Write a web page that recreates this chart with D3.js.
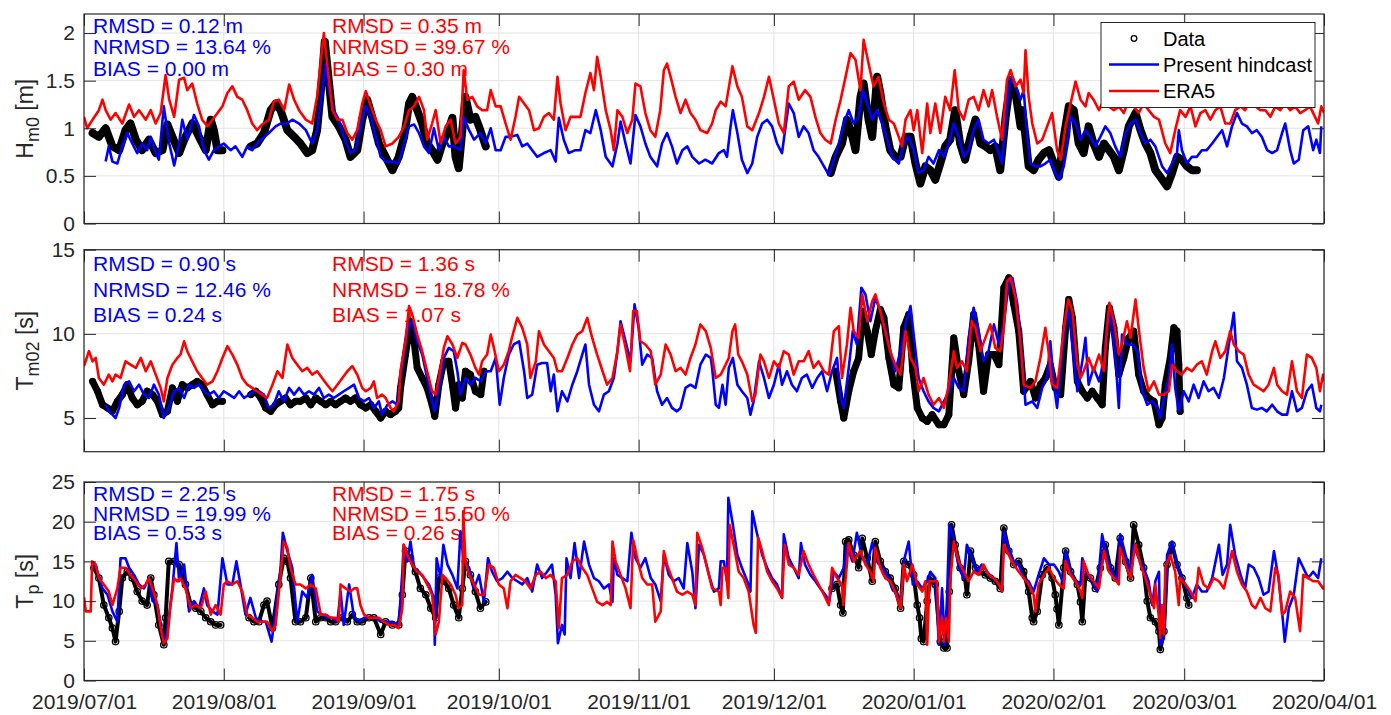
<!DOCTYPE html>
<html>
<head>
<meta charset="utf-8">
<script src="https://cdn.jsdelivr.net/npm/d3@7"></script>
<style>
  body { margin: 0; background: #fff; }
  text { font-family: "Liberation Sans", Arial, sans-serif; }
</style>
</head>
<body>
<svg id="chart" width="1391" height="715"></svg>
<script>
// time values are days since 2019/07/01, null = gap in the record
const monthTicks = ["2019/07/01","2019/08/01","2019/09/01","2019/10/01","2019/11/01","2019/12/01","2020/01/01","2020/02/01","2020/03/01","2020/04/01"];
const hm0Ticks = [0, 0.5, 1, 1.5, 2];
const tm02Ticks = [5, 10, 15];
const tpTicks = [0, 5, 10, 15, 20, 25];

const seriesNames = ["Data", "Present hindcast", "ERA5"];

const hindStats = [
  ["RMSD = 0.12 m", "NRMSD = 13.64 %", "BIAS = 0.00 m"],
  ["RMSD = 0.90 s", "NRMSD = 12.46 %", "BIAS = 0.24 s"],
  ["RMSD = 2.25 s", "NRMSD = 19.99 %", "BIAS = 0.53 s"]
];
const eraStats = [
  ["RMSD = 0.35 m", "NRMSD = 39.67 %", "BIAS = 0.30 m"],
  ["RMSD = 1.36 s", "NRMSD = 18.78 %", "BIAS = 1.07 s"],
  ["RMSD = 1.75 s", "NRMSD = 15.50 %", "BIAS = 0.26 s"]
];

const hm0Obs = [
  [1.9,0.95],[3.3,0.91],[4.8,1.00],[6.3,0.81],[7.8,0.77],[9.2,0.98],[10.3,1.05],[11.5,0.88],[12.9,0.77],[14.4,0.88],[15.9,0.74],[17.4,0.77],[18.5,1.04],[19.6,0.91],[21.1,0.74],[22.5,0.91],[24.0,1.05],[25.5,0.91],[27.0,0.77],[28.1,1.09],[28.8,0.98],[29.6,0.77],[30.7,0.77],
  null,
  [37.0,0.81],[38.4,0.84],[39.9,0.95],[41.4,1.19],[42.5,1.26],[43.6,1.19],[45.1,0.98],[46.6,0.91],[48.0,0.84],[49.5,0.74],[50.6,0.77],[51.7,0.98],[52.8,1.54],[53.4,1.91],[54.2,1.54],[55.1,1.12],[56.5,1.02],[58.0,0.88],[59.1,0.70],[60.6,0.77],[61.7,1.09],[62.8,1.30],[63.9,1.12],[65.4,0.84],[66.9,0.70],[68.4,0.56],[69.8,0.70],
  [71.0,0.91],[72.1,1.26],[72.8,1.33],[73.9,1.19],[75.0,1.05],[76.1,0.84],[77.2,0.77],[78.4,0.67],[79.5,0.84],[80.6,0.95],[81.7,1.11],[82.4,0.70],[83.1,0.58],[83.9,0.98],[84.6,1.33],[85.7,1.09],[86.8,1.12],[87.9,0.98],[89.1,0.81],
  null,
  [165.6,0.53],[166.7,0.70],[168.1,0.84],[169.2,1.09],[170.4,0.91],[171.1,0.77],[172.2,1.33],[172.9,1.47],[174.0,1.09],[174.8,0.91],[175.9,1.54],[176.6,1.37],[177.7,1.02],[178.8,0.77],[179.9,0.70],[181.1,0.70],[182.2,0.91],[183.3,0.91],[184.4,0.63],[185.5,0.42],[186.6,0.60],[187.7,0.56],[188.8,0.46],[189.9,0.63],[191.0,0.81],[192.1,0.88],[193.2,1.19],[194.3,0.84],[195.4,0.67],[196.6,0.91],[197.7,1.09],[198.8,0.84],[199.9,0.81],[201.0,0.77],[202.1,0.81],[203.2,0.56],[204.4,1.12],[205.5,1.51],[206.6,1.37],[207.7,1.02],
  [208.1,1.19],[208.8,0.91],[209.5,0.60],[210.6,0.56],[211.7,0.67],[212.9,0.74],[214.0,0.77],[215.1,0.63],[216.2,0.49],[217.3,0.91],[218.4,1.23],[219.5,1.19],[220.6,0.84],[221.7,0.74],[222.8,1.02],[223.9,0.84],[225.1,0.70],[226.2,0.84],[227.3,0.77],[228.4,0.70],[229.5,0.56],[230.6,0.77],[231.7,1.02],[233.2,1.16],[234.3,0.98],[235.4,0.84],[236.5,0.74],[237.6,0.56],[238.7,0.49],[240.2,0.39],[241.3,0.53],[242.4,0.70],[243.5,0.67],[244.6,0.60],[245.7,0.56],[246.8,0.56]
];
const hm0Hind = [
  [4.8,0.65],[5.5,0.81],[6.3,0.65],[7.4,0.63],[8.5,0.81],[9.6,0.95],[10.7,0.84],[11.8,0.74],[12.9,0.84],[14.0,0.77],[14.8,0.91],[15.9,0.74],[16.6,0.67],[17.7,1.23],[18.9,0.84],[20.0,0.61],[21.1,0.84],[21.8,1.09],[22.9,0.88],[24.4,1.14],[25.5,1.02],[26.6,0.77],[27.7,0.67],[28.8,0.77],[29.9,0.81],[31.0,0.84],[32.5,0.77],[33.6,0.81],[35.1,0.70],[36.2,0.81],[37.3,0.77],[38.4,0.84],[39.5,0.89],[41.0,0.95],[42.5,1.02],[43.6,1.05],[44.7,1.04],[46.2,1.09],[47.7,1.05],[49.2,0.98],[50.6,0.84],[51.7,0.98],[52.8,1.37],[53.6,1.68],[54.3,1.40],[55.4,1.19],[56.5,1.09],[57.6,0.91],[59.1,0.74],[60.2,0.77],[61.7,1.09],[62.5,1.23],[63.6,1.12],[64.7,0.91],[65.8,0.70],[66.9,0.65],[68.4,0.65],[69.8,0.63],
  [71.0,0.84],[72.1,1.02],[73.2,1.04],[74.3,0.95],[75.4,0.81],[76.5,0.74],[77.6,1.00],[78.7,0.77],[79.8,0.91],[80.9,0.81],[82.0,0.81],[83.5,0.77],[84.2,1.12],[85.4,0.98],[86.5,0.88],[87.9,0.95],[89.1,0.84],[90.2,1.00],[91.3,0.77],[92.4,0.77],[93.5,0.91],[94.6,0.91],[96.1,0.93],[97.2,0.81],[98.3,0.84],[99.4,0.77],[100.5,0.70],[102.0,0.74],[103.5,0.77],[104.6,0.65],[105.3,1.11],[106.4,0.88],[107.5,0.74],[109.0,0.77],[110.1,0.77],[111.2,0.98],[112.3,0.95],[113.5,1.19],[114.6,0.98],[115.7,0.70],[117.2,0.60],[118.3,0.84],[119.0,1.07],[120.1,0.84],[121.2,0.63],[122.3,1.14],[123.4,1.02],[124.5,0.84],[125.6,0.70],[127.1,0.60],[128.2,0.84],[129.3,0.95],[130.4,0.81],[131.5,0.63],[132.7,0.77],[133.8,0.81],[134.9,0.70],[136.4,0.63],[137.8,0.67],[139.3,0.63],
  [140.8,0.74],[141.9,0.77],[142.6,0.70],[143.4,1.02],[143.9,1.19],[144.9,0.95],[145.9,0.67],[147.1,0.53],[148.2,0.63],[149.3,0.91],[150.4,1.05],[151.5,1.09],[152.6,1.02],[153.7,0.84],[154.8,0.74],[155.6,1.02],[156.3,1.26],[157.4,1.16],[158.5,0.91],[159.6,1.02],[160.7,0.95],[161.8,0.77],[162.9,0.70],[164.1,0.60],[165.2,0.51],[166.3,0.67],[167.4,0.84],[168.5,1.05],[169.6,1.19],[170.7,1.05],[171.8,1.12],[172.7,1.40],[173.7,1.26],[174.8,1.09],[175.9,1.19],[177.0,1.05],[178.1,0.88],[179.2,0.70],[180.7,0.63],[181.8,0.84],[182.9,0.91],[184.0,0.77],[185.1,0.53],[186.2,0.56],[187.3,0.70],[188.4,0.63],[189.6,0.77],[190.7,0.70],[191.8,0.84],[192.9,1.05],[194.0,0.91],[195.1,0.70],[196.2,0.77],[197.3,0.98],[198.4,1.09],[199.5,0.88],[200.6,0.84],[201.8,0.88],[202.9,0.74],[203.6,0.63],[204.4,1.09],[205.5,1.53],[206.6,1.44],[207.7,1.30],
  [208.4,1.40],[209.2,0.91],[209.9,0.63],[211.0,0.60],[212.1,0.60],[213.2,0.63],[214.3,0.67],[215.4,0.53],[216.2,0.46],[217.3,0.60],[218.4,0.91],[218.8,1.12],[219.9,1.05],[221.0,0.88],[222.1,0.98],[223.2,0.91],[224.3,0.81],[225.4,0.91],[226.5,1.02],[227.6,0.95],[228.7,0.81],[229.8,0.70],[231.0,0.95],[232.1,1.05],[233.2,1.09],[234.3,0.95],[235.4,0.84],[236.5,0.88],[237.6,0.81],[239.1,0.60],[240.2,0.53],[241.3,0.63],[242.4,0.74],[242.8,0.98],[243.5,0.77],[244.6,0.63],[245.7,0.70],[246.8,0.70],[247.9,0.77],[249.0,0.77],[250.2,0.84],[251.3,0.91],[252.4,0.98],[253.5,0.81],[254.6,1.02],[255.7,1.16],[256.8,1.05],[257.9,1.02],[259.0,0.95],[260.1,0.98],[261.2,0.91],[262.4,0.77],[263.5,0.74],[264.6,0.77],[265.7,0.95],[266.4,1.05],[267.5,0.77],[268.3,0.63],[269.4,0.67],[270.4,0.98],[271.5,1.02],[272.6,0.77],[273.3,0.88],[274.1,0.74],[274.4,1.02]
];
const hm0Era = [
  [0,1.12],[0.7,1.00],[1.9,1.09],[3.3,1.19],[4.1,1.30],[4.8,1.19],[5.9,1.09],[7.0,1.16],[8.5,1.05],[10.0,1.25],[11.1,1.12],[12.2,1.19],[13.7,1.09],[14.8,1.19],[15.9,1.05],[17.0,1.16],[18.1,1.56],[18.9,1.30],[20.0,1.12],[21.1,1.51],[22.2,1.53],[22.9,1.40],[24.0,1.47],[25.1,1.26],[26.2,1.09],[27.4,1.02],[28.5,1.09],[29.6,1.16],[30.7,1.23],[31.8,1.37],[32.9,1.44],[34.0,1.33],[35.1,1.30],[36.2,1.19],[37.3,1.05],[38.4,0.98],[39.5,1.04],[41.0,1.09],[42.1,1.28],[43.2,1.30],[44.4,1.19],[45.5,1.46],[46.6,1.30],[47.7,1.19],[49.2,1.09],[50.6,1.05],[51.7,1.33],[52.7,1.79],[53.2,2.00],[54.0,1.65],[55.1,1.19],[56.2,1.09],[57.3,1.09],[58.4,0.95],[59.5,0.88],[60.6,0.98],[61.7,1.26],[62.5,1.39],[63.6,1.23],[64.7,1.09],[65.8,0.98],[66.9,0.81],[68.4,0.84],[69.8,0.91],
  [71.0,1.02],[72.1,1.19],[73.2,1.23],[74.3,1.33],[75.4,1.19],[76.1,0.88],[77.2,1.05],[78.0,1.19],[79.1,0.84],[80.2,1.02],[81.3,1.09],[82.4,0.84],[83.5,0.91],[84.2,1.61],[85.0,1.30],[86.1,1.33],[87.2,1.23],[88.3,1.19],[89.4,1.19],[90.2,1.40],[91.3,1.23],[92.4,1.23],[93.5,1.05],[94.6,0.88],[95.7,1.12],[96.5,1.33],[97.6,1.26],[98.7,1.19],[99.8,0.98],[100.9,1.00],[102.0,1.12],[103.1,1.16],[104.2,1.09],[105.0,1.54],[105.7,1.26],[106.8,0.98],[107.9,1.12],[109.0,1.12],[110.1,1.12],[111.2,1.37],[112.3,1.58],[113.1,1.40],[113.8,1.75],[114.6,1.54],[115.7,1.19],[116.8,0.98],[117.5,0.77],[118.3,1.19],[119.4,1.12],[120.5,0.95],[121.6,1.09],[122.3,1.47],[123.4,1.44],[124.5,1.16],[125.6,0.98],[126.7,0.91],[127.8,1.19],[128.6,1.61],[129.3,1.68],[130.1,1.54],[131.2,1.33],[132.3,1.16],[133.4,1.30],[134.5,1.16],[135.6,1.09],[136.7,0.98],[138.2,0.95],[139.3,1.05],
  [140.1,1.19],[141.2,1.28],[142.3,1.23],[143.8,1.65],[144.9,1.44],[145.9,1.33],[147.1,1.02],[148.2,0.98],[149.7,1.16],[150.8,1.33],[151.9,1.54],[153.0,1.30],[154.1,1.05],[155.2,0.95],[156.3,1.44],[157.4,1.49],[158.5,1.30],[159.9,1.40],[161.1,1.33],[162.2,1.12],[163.3,0.95],[164.4,0.88],[165.6,0.84],[166.7,1.09],[167.8,1.30],[168.9,1.54],[170.0,1.79],[171.1,1.72],[172.2,1.40],[172.9,1.93],[174.0,1.68],[175.1,1.44],[176.2,1.54],[177.4,1.26],[178.5,1.09],[179.6,1.05],[180.7,0.91],[181.4,0.81],[182.2,1.09],[183.3,1.19],[184.0,0.98],[184.8,1.19],[185.9,0.74],[187.0,1.26],[187.7,0.95],[188.8,1.26],[189.9,0.95],[191.0,1.33],[192.1,1.19],[193.1,1.61],[194.0,1.19],[195.1,1.09],[196.2,1.30],[197.3,1.33],[198.4,1.19],[199.5,1.40],[200.6,1.23],[201.4,1.40],[202.5,1.12],[203.6,0.88],[204.7,1.51],[205.5,1.61],[206.6,1.44],[207.7,1.51],[208.4,1.37],
  [208.8,1.82],[209.5,1.33],[210.3,1.05],[211.4,0.84],[212.5,0.88],[213.6,1.02],[214.7,1.16],[215.8,0.77],[216.6,0.67],[217.7,1.02],[218.8,1.26],[219.9,1.49],[221.0,1.30],[222.1,1.23],[222.8,1.37],[223.9,1.30],[225.1,1.19],[226.2,1.30],[227.3,1.23],[228.4,1.19],[229.5,1.23],[230.6,1.16],[231.7,1.30],[232.8,1.23],[233.9,1.16],[235.0,1.26],[236.1,1.19],[237.3,1.12],[238.4,1.09],[239.8,0.84],[240.9,0.74],[242.0,0.98],[243.1,1.19],[244.3,1.12],[245.4,1.23],[246.5,1.02],[247.6,1.16],[248.7,1.19],[249.8,1.09],[250.9,1.19],[252.0,1.23],[253.1,1.05],[254.2,1.05],[255.3,1.19],[256.5,1.23],[257.5,1.19],[258.7,1.30],[259.8,1.23],[260.9,1.19],[262.0,1.19],[263.1,1.12],[264.2,1.23],[265.3,1.19],[266.4,1.26],[267.5,1.19],[268.6,1.23],[269.7,1.16],[270.8,1.19],[271.9,1.23],[273.0,1.12],[273.7,1.05],[274.4,1.23],[275.0,1.16]
];

const tm02Obs = [
  [1.9,7.18],[3.0,6.59],[4.1,5.79],[5.2,5.60],[6.3,5.40],[7.4,5.99],[8.5,6.39],[9.6,6.98],[10.7,6.19],[11.8,5.79],[12.9,5.99],[14.0,6.59],[15.2,6.39],[16.3,5.99],[17.4,5.20],[18.5,5.40],[19.6,6.79],[20.7,5.99],[21.8,6.98],[22.9,6.79],[24.0,6.98],[25.1,7.18],[26.2,6.98],[27.3,6.39],[28.5,5.79],[29.6,5.99],[30.7,5.99],
  null,
  [37.0,6.39],[38.1,6.59],[39.2,6.19],[40.3,5.60],[41.4,5.40],[42.5,5.79],[43.6,5.99],[44.7,6.19],[45.8,5.79],[46.9,5.99],[48.0,5.99],[49.2,6.19],[50.3,5.79],[51.4,6.19],[52.5,5.99],[53.6,5.79],[54.7,5.99],[55.8,5.79],[56.9,5.99],[58.0,6.19],[59.1,5.99],[60.2,6.19],[61.3,5.79],[62.5,5.60],[63.6,5.79],[64.7,5.40],[65.8,5.00],[66.9,5.40],[68.0,5.20],[69.1,5.40],[69.8,5.60],
  [70.2,6.79],[71.3,8.77],[72.4,10.75],[73.2,9.56],[73.9,7.98],[75.0,7.38],[76.1,6.79],[77.2,5.79],[77.8,5.10],[78.7,6.98],[79.8,8.37],[80.9,8.37],[81.7,6.98],[82.4,5.60],[83.1,6.98],[83.9,6.19],[84.6,7.78],[85.7,7.58],[86.8,6.59],[88.0,6.39],[88.7,7.78],
  null,
  [166.7,7.78],[167.8,5.99],[168.5,5.00],[169.6,6.59],[170.7,7.78],[171.8,8.57],[172.7,11.35],[173.7,10.16],[174.6,8.77],[175.5,10.16],[176.6,11.45],[177.4,10.95],[178.5,8.57],[179.6,6.98],[180.7,6.79],[181.8,10.36],[182.9,11.15],[183.8,7.78],[184.8,5.60],[185.9,5.00],[187.0,4.80],[188.1,5.20],[189.6,4.60],[190.7,4.60],[191.8,5.20],[192.9,9.76],[194.0,7.78],[195.1,6.39],[196.2,8.37],[197.3,11.15],[198.4,9.37],[199.5,6.59],[200.6,8.77],[201.8,8.77],[202.9,8.17],[204.0,12.74],[205.1,13.33],[206.2,11.75],[207.3,10.16],[208.4,6.59],
  [209.9,7.18],[211.0,6.19],[212.1,6.98],[213.2,7.38],[214.3,8.17],[215.4,6.79],[216.6,6.39],[217.7,10.36],[218.4,12.04],[219.2,10.95],[220.3,7.18],[221.4,6.59],[222.5,6.19],[223.6,6.59],[224.7,6.19],[225.8,5.79],[226.5,9.17],[227.4,11.55],[228.4,10.36],[229.5,7.58],[230.6,8.57],[231.7,9.76],[232.8,10.16],[233.9,7.58],[235.0,6.59],[236.1,6.19],[237.3,5.99],[238.4,4.60],[239.1,5.00],[239.8,6.98],[240.9,8.57],[241.7,10.36],[242.4,10.16],[242.8,8.17],[243.1,5.40]
];
const tm02Hind = [
  [4.8,5.79],[5.5,5.40],[6.3,5.20],[7.0,5.00],[7.8,5.60],[8.9,6.98],[10.0,7.18],[11.1,6.59],[12.2,6.98],[13.3,6.39],[14.4,6.19],[15.5,6.98],[16.6,6.39],[17.7,5.00],[18.8,5.60],[20.0,6.59],[21.1,6.79],[22.2,6.19],[23.3,6.98],[24.4,6.79],[25.5,6.98],[26.6,6.59],[27.7,6.39],[28.8,6.59],[29.9,6.19],[31.0,6.59],[32.2,6.39],[33.3,6.19],[34.4,6.59],[35.5,6.19],[36.6,6.39],[37.7,6.59],[38.8,6.59],[39.9,6.39],[41.0,5.60],[42.1,5.79],[43.2,6.59],[44.3,5.99],[45.5,6.79],[46.6,6.39],[47.7,6.79],[48.8,6.39],[49.9,6.59],[51.0,6.39],[52.1,6.79],[53.2,6.19],[54.3,6.39],[55.4,6.19],[56.5,6.39],[57.6,6.59],[58.8,6.79],[59.9,6.98],[61.0,6.19],[62.1,5.99],[63.2,6.19],[64.3,5.60],[65.4,5.99],[66.1,5.20],[67.3,5.79],[68.4,5.99],[69.5,5.79],
  [70.2,7.38],[71.3,9.37],[72.1,10.56],[72.8,10.75],[73.9,9.56],[75.0,8.77],[76.1,7.38],[77.2,5.99],[77.8,5.40],[78.7,6.79],[79.8,8.57],[80.9,9.17],[82.0,8.97],[82.8,7.78],[83.5,6.39],[84.6,7.38],[85.7,6.98],[86.8,7.38],[88.0,7.18],[89.1,7.78],[90.2,7.78],[91.3,8.57],[92.2,5.79],[93.1,7.38],[94.2,8.77],[95.3,9.37],[96.5,9.56],[97.6,7.78],[98.3,6.19],[99.4,6.39],[100.5,8.17],[101.6,8.27],[102.7,8.27],[103.5,6.59],[104.2,7.58],[105.0,5.40],[106.0,6.59],[107.2,5.99],[108.3,6.98],[109.4,7.78],[110.5,8.77],[111.2,9.37],[112.0,6.98],[113.1,5.79],[114.2,5.40],[115.3,6.39],[116.4,6.59],[117.5,7.38],[118.3,8.97],[119.0,10.75],[120.1,9.56],[121.2,8.37],[122.1,11.75],[123.0,10.36],[123.8,8.17],[124.9,8.77],[126.0,8.57],[127.1,6.59],[128.2,5.79],[129.3,6.19],[130.4,5.60],[131.5,5.40],[132.3,5.60],[133.4,6.79],[134.5,6.98],[135.6,6.79],[136.7,8.17],[137.9,8.77],[139.0,8.57],
  [139.3,7.98],[140.1,5.79],[140.8,5.60],[141.6,6.98],[142.3,5.79],[143.0,7.98],[143.9,8.57],[144.9,6.98],[145.9,6.59],[147.1,6.19],[147.8,5.20],[148.5,5.99],[149.7,8.37],[150.8,7.38],[151.9,6.19],[153.0,6.98],[154.1,8.17],[154.8,6.98],[155.9,7.78],[157.0,6.98],[158.1,6.59],[159.2,7.38],[160.3,7.58],[161.5,6.79],[162.6,7.38],[163.7,7.78],[164.8,6.59],[165.9,7.78],[167.0,8.57],[167.8,6.19],[168.5,5.60],[169.6,7.98],[170.5,10.16],[171.4,9.37],[172.4,12.74],[173.3,12.34],[174.4,10.75],[175.5,12.14],[176.6,11.35],[177.7,10.36],[178.8,8.97],[179.9,7.78],[181.1,8.97],[182.2,10.56],[183.3,11.65],[184.0,9.96],[185.1,7.38],[186.2,6.59],[187.3,5.99],[188.4,5.60],[189.6,5.40],[190.7,5.99],[191.8,6.59],[192.9,7.38],[194.0,6.79],[195.1,6.59],[196.2,9.76],[197.3,11.55],[198.4,10.16],[199.5,8.37],[200.6,8.97],[201.8,10.56],[202.9,9.37],[204.0,10.56],[205.1,13.13],[205.9,13.33],[207.0,11.75],[208.1,8.57],[208.8,5.79],
  [210.3,5.99],[211.4,5.60],[212.5,6.79],[213.6,7.38],[214.3,9.56],[215.1,6.98],[215.8,5.60],[216.6,7.98],[217.7,10.75],[218.4,11.35],[219.2,9.37],[220.3,6.59],[221.4,8.37],[222.1,9.76],[222.8,6.98],[223.9,7.98],[225.1,7.18],[226.2,8.37],[226.9,10.56],[227.6,11.15],[228.7,8.77],[229.5,5.60],[230.2,9.96],[231.3,9.37],[232.5,9.37],[233.6,8.97],[234.7,6.59],[235.8,5.79],[236.9,5.99],[238.0,5.60],[238.7,5.00],[239.5,6.19],[240.6,7.38],[241.3,9.37],[242.0,6.79],[242.8,5.40],[243.9,6.59],[245.0,5.99],[246.1,6.98],[247.2,6.19],[248.3,7.18],[249.4,6.59],[250.5,6.79],[251.7,6.19],[252.8,7.38],[253.9,9.37],[255.0,11.25],[255.7,8.37],[256.8,7.98],[257.9,6.98],[259.0,5.60],[260.1,5.50],[261.2,5.60],[262.3,5.40],[263.5,5.79],[264.6,5.40],[265.7,5.20],[266.8,5.20],[267.9,6.59],[269.0,5.40],[270.1,5.60],[271.2,6.59],[272.3,6.98],[273.3,5.60],[274.1,5.40],[274.4,5.79]
];
const tm02Era = [
  [0,8.08],[1.1,8.97],[1.9,8.37],[2.6,8.57],[3.3,7.38],[4.4,6.98],[5.5,7.58],[6.3,7.18],[7.0,7.58],[8.1,7.38],[9.2,8.37],[10.3,8.17],[11.5,7.98],[12.6,8.57],[13.7,7.78],[14.8,8.37],[15.9,7.58],[17.0,6.79],[17.7,5.99],[18.5,7.38],[19.6,8.17],[20.7,8.57],[21.4,8.77],[22.2,9.56],[22.9,8.97],[24.0,8.37],[25.1,7.78],[26.2,7.38],[27.3,6.98],[28.5,7.18],[29.6,7.78],[30.7,8.57],[31.8,9.27],[32.9,8.77],[34.0,8.17],[35.1,7.38],[36.2,6.98],[37.3,6.79],[38.4,6.59],[39.5,6.39],[40.6,6.19],[41.8,6.98],[42.9,7.78],[44.0,7.38],[45.1,9.37],[46.2,8.57],[47.3,8.17],[48.4,7.78],[49.5,7.98],[50.6,7.58],[51.7,7.78],[52.8,7.38],[53.9,6.98],[55.1,6.59],[56.2,6.98],[57.3,7.38],[58.4,7.78],[59.5,8.08],[60.6,7.58],[61.7,6.79],[62.5,6.59],[63.6,6.79],[64.3,7.18],[65.0,6.19],[66.1,6.39],[66.9,6.19],[68.0,5.60],[68.7,5.40],[69.8,5.99],
  [70.2,7.78],[71.3,9.56],[72.1,11.65],[72.8,11.15],[73.9,9.96],[75.0,8.97],[76.1,7.78],[77.2,6.59],[78.0,6.39],[78.7,7.38],[79.8,9.17],[80.6,9.86],[81.7,9.37],[82.8,8.57],[83.9,9.46],[84.6,9.37],[85.7,8.77],[86.8,7.98],[87.6,7.58],[88.3,8.37],[89.4,8.77],[90.2,9.96],[90.9,9.17],[92.0,7.78],[93.1,8.17],[94.2,8.97],[94.9,9.76],[96.1,10.95],[97.2,10.36],[98.3,9.37],[99.0,7.38],[100.2,8.37],[100.9,10.16],[102.0,9.37],[103.1,8.97],[104.2,8.57],[105.0,7.78],[106.0,7.78],[107.2,8.57],[108.3,9.37],[109.4,9.96],[110.5,10.16],[111.6,10.95],[112.7,9.76],[113.8,8.77],[115.0,7.78],[116.0,6.98],[117.2,7.38],[118.3,8.97],[119.0,10.56],[120.1,9.17],[121.1,7.78],[121.8,11.35],[122.6,11.35],[123.4,9.56],[124.5,9.37],[125.7,8.97],[126.7,6.98],[127.9,7.58],[129.0,9.37],[130.1,8.77],[131.2,7.78],[132.3,7.98],[133.4,7.58],[134.5,8.57],[135.6,9.37],[136.7,10.56],[137.9,10.16],[139.0,9.17],
  [140.1,7.38],[141.2,7.58],[142.3,8.17],[143.0,8.57],[143.8,10.16],[144.4,10.56],[145.1,8.77],[145.9,8.37],[147.1,7.58],[148.2,5.99],[148.9,6.39],[150.0,8.77],[150.8,8.37],[151.9,7.38],[153.0,8.37],[154.1,7.98],[155.2,8.97],[156.3,8.77],[157.4,7.58],[158.5,8.37],[159.6,8.37],[160.7,8.97],[161.8,7.98],[162.9,8.37],[164.1,7.78],[165.2,7.58],[166.3,10.16],[167.4,10.46],[168.1,7.38],[169.2,9.37],[170.0,11.55],[170.7,10.16],[171.8,9.76],[172.6,12.34],[173.7,10.75],[174.8,11.94],[175.5,12.34],[176.6,11.35],[177.7,10.16],[178.8,8.97],[179.9,8.17],[181.1,7.58],[182.2,10.16],[183.3,8.57],[184.4,7.98],[185.1,6.59],[186.2,7.38],[187.3,6.39],[188.4,5.79],[189.6,6.19],[190.7,5.60],[191.8,6.98],[192.9,8.97],[193.6,7.98],[194.7,8.37],[195.8,7.78],[196.9,10.75],[197.7,10.36],[198.8,8.97],[199.9,9.76],[201.0,10.56],[202.1,9.17],[203.2,8.97],[204.0,10.36],[204.7,13.13],[205.5,13.33],[206.6,12.14],[207.7,9.37],[208.4,6.98],
  [209.9,6.79],[211.0,7.18],[212.1,8.57],[213.2,10.36],[214.0,8.77],[214.7,6.98],[215.8,6.79],[216.6,8.57],[217.3,10.36],[218.3,12.04],[219.2,11.35],[220.3,8.17],[221.0,7.38],[221.7,7.78],[222.8,8.57],[223.9,7.78],[225.1,8.77],[226.2,7.78],[226.9,10.36],[227.4,11.85],[228.4,10.75],[229.5,8.77],[230.2,9.37],[231.3,10.75],[232.1,9.76],[233.2,12.04],[233.9,10.36],[235.0,7.98],[236.1,6.59],[237.3,7.18],[238.4,6.39],[239.5,6.39],[240.6,6.59],[241.3,8.17],[242.4,7.78],[243.5,7.58],[244.6,7.98],[245.7,7.78],[246.8,8.17],[247.9,8.37],[249.0,7.58],[250.2,8.97],[250.9,9.56],[252.0,8.57],[253.1,8.97],[254.2,10.16],[255.0,9.37],[256.1,8.97],[257.2,8.77],[258.3,7.58],[259.4,6.98],[260.5,6.79],[261.6,6.59],[262.7,6.98],[263.9,7.98],[264.6,6.98],[265.7,6.59],[266.8,6.39],[267.9,8.37],[269.0,6.59],[270.1,6.19],[271.2,8.77],[272.3,8.57],[273.3,7.98],[274.1,6.59],[274.8,7.58],[275.0,7.18]
];

const tpObs = [
  [2.2,14.2],[3.3,12.9],[4.4,9.5],[5.5,7.9],[6.3,6.6],[7.0,4.9],[7.8,8.7],[8.5,12.9],[9.6,13.7],[10.7,12.9],[11.8,11.2],[12.9,10.0],[14.0,9.5],[14.8,12.9],[15.5,10.8],[16.6,7.0],[17.7,4.5],[18.1,7.9],[18.8,15.0],[20.0,15.0],[21.1,14.6],[21.8,13.3],[22.5,12.1],[23.7,9.5],[24.8,9.1],[25.9,8.7],[27.0,7.9],[28.1,7.4],[29.2,7.0],[30.3,7.0],
  null,
  [36.6,7.9],[37.7,7.4],[38.8,7.4],[39.9,9.5],[40.6,10.0],[41.8,6.6],[43.2,12.1],[44.3,15.4],[45.1,15.0],[45.8,12.9],[46.9,7.4],[48.0,7.4],[49.2,7.9],[50.3,12.9],[51.4,7.4],[52.5,7.9],[53.6,7.9],[54.7,7.4],[55.8,7.4],[57.3,7.9],[58.4,7.4],[59.5,8.3],[60.6,7.4],[61.7,7.4],[63.2,7.9],[64.3,7.9],[65.8,5.8],[66.9,7.4],[68.4,7.0],[69.8,7.0],
  [70.6,10.8],[71.3,16.3],[72.4,15.4],[73.5,13.7],[74.6,11.6],[75.8,10.8],[76.9,9.1],[78.0,7.9],[78.7,12.9],[79.8,12.5],[80.9,11.6],[82.0,9.5],[83.1,7.9],[83.9,11.6],[84.6,15.0],[85.7,13.3],[86.8,11.2],[87.9,9.1],[89.1,9.9],
  null,
  [165.9,11.6],[167.0,12.1],[167.8,9.5],[168.3,8.5],[168.9,17.5],[169.6,17.7],[170.7,15.8],[171.8,14.2],[172.6,17.9],[173.7,15.4],[174.8,12.5],[175.5,17.5],[176.6,15.0],[177.7,13.7],[178.8,12.9],[179.9,11.6],[181.1,9.1],[181.8,15.0],[182.9,14.6],[184.0,13.3],[184.8,9.5],[185.3,7.9],[185.7,5.3],[186.2,4.9],[187.0,10.0],[187.7,12.9],[188.8,12.1],[189.9,4.9],[190.7,4.1],[191.4,4.1],[191.9,11.2],[192.4,19.6],[193.2,17.1],[194.3,14.2],[195.4,12.9],[195.8,10.8],[196.6,16.3],[197.7,14.2],[198.8,13.7],[199.9,13.3],[201.0,12.9],[202.1,12.5],[203.2,11.6],[204.0,19.2],[205.1,16.3],[206.2,14.6],
  [207.3,15.0],[208.4,13.7],[209.5,11.2],[210.3,7.9],[210.6,7.4],[211.4,8.7],[212.5,13.3],[213.6,14.2],[214.7,12.9],[215.4,10.8],[215.8,9.0],[216.2,7.0],[217.3,14.2],[217.7,16.3],[218.8,13.7],[220.3,12.1],[221.0,9.9],[221.4,7.4],[222.1,13.3],[223.2,12.9],[224.3,11.6],[225.4,14.2],[226.5,17.1],[227.6,14.2],[228.7,12.9],[229.8,17.9],[231.0,15.0],[232.1,12.9],[232.8,19.6],[233.9,17.1],[235.0,14.2],[235.8,10.0],[236.5,7.9],[237.6,7.4],[238.4,6.2],[238.7,3.9],[239.5,6.2],[240.2,14.6],[241.3,17.1],[242.4,14.6],[243.5,12.9],[244.6,10.4],[245.0,9.5]
];
const tpHind = [
  [1.8,15.0],[3.0,13.7],[4.1,11.6],[5.2,10.8],[6.3,8.7],[7.4,7.4],[8.1,15.4],[9.2,15.4],[10.0,14.2],[11.1,13.3],[12.2,12.1],[13.3,11.6],[14.4,12.9],[15.2,10.0],[16.3,9.5],[17.4,5.8],[18.1,4.9],[18.8,7.9],[19.6,11.6],[20.5,17.3],[21.1,12.5],[22.2,14.6],[23.3,8.7],[24.4,10.0],[25.5,9.1],[26.6,11.6],[27.3,9.5],[28.5,8.7],[29.6,8.3],[30.7,15.4],[31.8,12.1],[32.9,12.1],[33.8,15.0],[34.7,12.1],[35.8,8.3],[36.9,10.4],[38.1,7.9],[39.2,7.4],[40.3,7.4],[41.6,4.9],[42.5,8.7],[43.6,14.2],[44.1,18.6],[45.1,16.3],[46.2,14.2],[47.3,7.4],[48.4,11.2],[49.5,10.4],[50.6,13.3],[51.7,8.7],[52.8,8.3],[53.9,7.9],[55.1,7.9],[56.2,7.4],[56.9,11.2],[57.6,7.0],[58.8,12.1],[59.9,7.9],[61.0,7.4],[62.1,7.9],[63.6,7.9],[64.7,7.9],[65.8,7.4],[66.9,7.4],[68.4,7.4],[69.8,7.0],
  [70.6,13.7],[70.9,17.1],[71.7,15.0],[72.4,17.5],[73.2,14.2],[74.3,13.7],[75.4,12.9],[76.5,12.1],[77.6,10.4],[77.8,4.5],[78.2,15.4],[79.1,12.9],[79.7,17.1],[80.6,14.6],[81.7,13.3],[82.8,11.6],[83.5,18.8],[84.2,15.0],[85.4,14.2],[86.5,11.6],[87.6,13.3],[88.7,9.9],[89.6,15.4],[90.5,13.7],[91.6,12.5],[92.8,12.9],[93.9,13.7],[95.0,12.9],[96.1,12.5],[97.2,12.1],[98.3,12.9],[99.4,11.2],[100.5,14.6],[101.6,12.9],[102.7,13.7],[103.8,14.6],[104.6,10.8],[105.1,4.7],[106.0,7.0],[106.6,5.8],[107.0,15.4],[107.9,12.9],[108.8,17.3],[109.8,12.9],[110.9,17.5],[112.0,14.6],[113.1,12.9],[114.2,12.5],[115.3,11.6],[116.4,12.1],[117.2,9.9],[117.5,15.4],[118.3,13.3],[119.4,12.9],[120.5,12.5],[121.4,18.6],[122.3,15.4],[123.4,14.2],[124.5,15.4],[125.7,12.9],[126.7,12.1],[127.9,10.0],[128.6,15.8],[129.7,13.3],[130.8,12.5],[131.9,12.9],[133.0,11.6],[133.8,17.3],[134.9,13.7],[135.6,9.1],[136.4,17.1],[137.5,15.8],[138.6,13.3],[139.7,11.2],
  [140.8,11.6],[141.2,15.0],[141.9,15.0],[142.6,12.5],[142.9,23.0],[143.8,20.0],[144.9,15.8],[145.9,14.2],[147.1,12.5],[147.8,11.2],[148.2,21.3],[149.3,18.4],[150.4,15.8],[151.5,14.2],[152.6,12.9],[153.7,12.1],[154.8,10.4],[155.2,18.4],[156.3,15.4],[157.4,14.2],[158.5,12.9],[159.0,17.3],[159.9,14.6],[161.1,13.3],[162.2,12.5],[163.3,11.6],[164.4,10.8],[165.3,10.0],[166.3,13.7],[167.4,12.9],[168.5,14.2],[169.2,17.1],[170.4,15.0],[171.4,18.6],[172.6,15.4],[173.7,14.6],[174.8,17.3],[175.9,15.0],[177.0,14.2],[178.1,13.3],[179.2,11.6],[180.3,10.8],[181.1,9.5],[181.8,15.0],[182.9,17.5],[183.8,12.1],[184.8,12.5],[185.9,11.6],[187.0,12.5],[187.7,13.7],[188.8,12.9],[189.6,4.5],[190.3,11.6],[190.9,4.5],[191.4,10.4],[191.9,19.6],[192.9,17.9],[194.0,14.2],[195.1,12.9],[195.8,17.1],[196.9,15.4],[198.0,13.7],[199.1,14.6],[200.3,13.7],[201.4,12.9],[202.5,12.5],[203.6,11.2],[204.0,18.8],[205.1,16.7],[206.2,15.0],
  [207.3,14.6],[208.4,12.9],[209.5,12.5],[210.6,11.2],[211.7,13.3],[212.9,15.4],[214.0,14.6],[215.1,14.6],[216.2,13.7],[217.3,12.1],[217.7,16.3],[218.8,13.7],[219.9,12.5],[221.0,12.1],[221.4,15.4],[222.5,13.3],[223.6,12.5],[224.7,11.2],[225.8,18.4],[226.9,15.4],[228.0,13.7],[229.1,12.5],[229.8,18.4],[231.0,15.8],[232.1,13.7],[232.8,17.1],[233.9,15.4],[235.0,14.2],[236.1,12.5],[236.9,9.5],[237.6,12.5],[238.4,13.7],[238.7,4.5],[239.5,5.3],[240.2,15.8],[241.3,17.5],[242.4,14.6],[243.5,12.9],[244.6,11.6],[245.7,10.4],[246.8,12.1],[247.9,11.2],[249.0,11.2],[250.2,12.9],[251.7,17.1],[252.5,13.3],[253.5,14.6],[254.2,19.6],[255.3,15.8],[256.5,13.3],[257.5,11.6],[258.3,14.6],[259.4,14.2],[260.5,12.9],[261.6,10.8],[262.7,11.2],[263.9,16.3],[264.9,12.9],[265.7,8.7],[266.3,4.9],[267.2,9.1],[268.3,10.8],[269.4,15.4],[270.4,14.2],[271.5,12.9],[272.6,13.7],[273.7,12.9],[274.4,15.4]
];
const tpEra = [
  [0,10.5],[0.4,8.7],[1.5,8.7],[1.8,15.0],[2.6,14.6],[3.3,12.9],[4.4,12.1],[5.5,11.2],[6.3,9.5],[7.4,11.6],[8.1,14.2],[9.2,14.2],[10.3,13.3],[11.5,12.5],[12.6,11.6],[13.7,12.1],[14.4,12.9],[15.2,11.6],[16.3,9.5],[17.0,6.6],[17.7,4.7],[18.5,5.3],[19.2,9.5],[20.0,12.9],[20.7,12.5],[21.4,12.9],[22.5,11.6],[23.7,9.1],[24.8,9.5],[25.9,9.1],[27.0,11.2],[28.1,8.3],[29.2,9.5],[30.3,8.3],[31.0,12.1],[31.8,12.5],[32.9,12.1],[34.0,12.5],[35.1,11.2],[36.2,8.3],[37.3,7.9],[38.4,7.4],[39.5,7.4],[40.6,7.4],[41.8,6.2],[42.5,7.0],[43.6,13.3],[44.3,17.5],[45.1,16.7],[45.8,14.2],[46.9,12.1],[48.0,12.1],[49.2,11.6],[50.3,12.1],[51.4,11.6],[52.5,8.3],[53.6,8.3],[54.7,7.9],[55.8,7.9],[56.5,7.4],[56.9,12.1],[58.0,11.6],[59.1,11.2],[59.9,11.6],[60.6,11.6],[61.3,9.5],[62.1,8.3],[63.2,7.9],[64.3,7.9],[65.4,7.9],[66.5,7.4],[67.6,7.0],[68.7,7.0],[69.8,6.6],
  [70.6,9.1],[70.9,17.1],[71.7,15.8],[72.8,14.6],[73.9,13.7],[75.0,13.3],[76.1,12.1],[77.2,10.8],[78.0,5.8],[78.7,7.4],[79.5,13.3],[80.2,12.9],[81.3,12.1],[82.4,10.8],[83.1,9.1],[83.9,9.5],[84.1,21.3],[84.6,15.0],[85.4,13.3],[86.5,12.1],[87.6,10.8],[88.7,10.8],[89.8,14.6],[90.9,14.2],[92.0,12.1],[93.1,11.6],[93.9,9.1],[94.6,12.5],[95.7,13.3],[96.8,12.9],[97.9,12.5],[99.0,11.6],[100.2,13.3],[101.3,13.7],[102.4,12.9],[103.5,13.3],[104.6,12.5],[105.3,6.6],[106.0,12.9],[107.2,13.3],[108.3,15.0],[109.4,15.4],[110.5,14.2],[111.6,13.3],[112.7,11.6],[113.8,9.9],[115.0,9.5],[116.0,9.9],[116.8,9.5],[117.2,17.5],[117.9,15.0],[119.0,13.3],[120.1,11.6],[121.2,9.1],[121.8,17.7],[122.7,15.4],[123.8,12.9],[124.9,12.1],[126.0,12.1],[126.7,7.4],[127.9,8.7],[128.6,16.3],[129.3,14.6],[130.4,12.9],[131.5,11.2],[132.7,10.8],[133.8,11.2],[134.9,10.8],[135.6,9.5],[136.0,18.6],[137.1,16.7],[138.2,14.2],[139.3,11.6],
  [140.8,11.2],[141.2,9.5],[141.6,14.2],[142.3,14.2],[142.9,10.4],[143.2,19.6],[144.2,16.7],[145.2,13.7],[146.3,12.9],[147.4,11.2],[148.5,7.0],[149.0,6.0],[149.5,18.0],[150.4,16.3],[151.5,13.7],[152.6,12.5],[153.7,11.6],[154.8,10.4],[155.4,17.1],[156.3,14.6],[157.4,14.2],[158.5,13.3],[159.6,16.3],[160.7,14.6],[161.8,13.3],[162.9,12.1],[164.1,10.8],[165.2,9.5],[165.9,14.2],[167.0,12.9],[168.1,12.1],[168.4,9.5],[169.6,17.3],[170.7,15.0],[172.2,16.3],[173.3,14.6],[174.4,13.7],[175.1,12.5],[175.5,16.7],[176.6,14.2],[177.7,12.9],[178.8,12.5],[179.9,11.2],[181.1,9.1],[181.8,14.6],[182.5,12.5],[183.7,14.6],[184.8,12.1],[185.9,11.2],[186.6,12.5],[187.0,4.5],[187.5,12.5],[188.4,12.5],[189.2,12.5],[189.6,4.9],[190.3,7.9],[190.7,4.9],[191.2,7.9],[191.8,4.9],[192.1,12.5],[192.9,17.5],[194.0,15.0],[195.1,13.7],[196.2,12.5],[197.3,13.7],[198.4,13.3],[199.5,14.6],[200.6,13.3],[201.8,12.9],[202.9,12.1],[203.6,11.2],[204.0,17.1],[205.1,15.8],[206.2,14.6],
  [207.3,13.7],[208.4,12.9],[209.5,12.1],[210.6,10.8],[211.0,8.7],[211.7,12.1],[212.9,13.3],[214.0,14.2],[215.1,12.9],[216.2,12.1],[217.3,11.6],[217.7,15.0],[218.8,13.3],[219.9,12.5],[221.0,11.2],[221.4,10.4],[221.7,15.0],[222.8,13.3],[223.9,12.5],[225.1,11.6],[226.2,16.3],[227.3,13.7],[228.4,12.9],[229.5,12.1],[229.8,16.7],[231.0,14.6],[232.1,12.9],[232.8,15.8],[233.2,17.1],[234.3,14.6],[235.4,12.9],[236.5,10.8],[237.3,9.1],[237.6,12.1],[238.4,7.9],[238.7,5.4],[239.1,9.5],[239.5,5.8],[239.8,14.2],[240.9,15.8],[242.0,13.7],[242.8,9.5],[243.1,12.9],[244.3,12.1],[245.4,11.2],[246.5,10.0],[247.2,14.2],[248.3,12.1],[249.4,11.6],[250.5,12.9],[251.7,12.5],[252.8,11.6],[253.5,13.3],[254.6,16.3],[255.7,13.7],[256.8,12.1],[257.9,11.2],[259.0,9.5],[259.8,9.1],[260.9,10.4],[262.0,9.1],[263.1,8.7],[264.2,14.2],[264.9,13.3],[265.7,8.3],[266.4,8.7],[267.5,11.2],[268.6,10.4],[269.7,6.2],[270.4,13.3],[271.5,12.9],[272.6,12.5],[273.7,12.5],[274.8,11.6],[275.0,11.9]
];

const svg = d3.select("#chart");
const left = 84, right = 1324;
const t0 = Date.UTC(2019, 6, 1);
const toDate = d => new Date(t0 + d * 864e5);
const parseTick = d3.utcParse("%Y/%m/%d");
const tickDates = monthTicks.map(parseTick);

const x = d3.scaleUtc()
  .domain([tickDates[0], tickDates[tickDates.length - 1]])
  .range([left, right]);

const panels = [
  { obs: hm0Obs, hind: hm0Hind, era: hm0Era, ticks: hm0Ticks, domain: [0, 2.2], top: 14, bottom: 223.5,
    label: ["H", "m0", " [m]"], statY: [32.7, 54.3, 75.5], obsWidth: 8, obsR: 2.8 },
  { obs: tm02Obs, hind: tm02Hind, era: tm02Era, ticks: tm02Ticks, domain: [3, 15], top: 249.7, bottom: 451.7,
    label: ["T", "m02", " [s]"], statY: [271, 296.5, 321.5], obsWidth: 7, obsR: 2.8 },
  { obs: tpObs, hind: tpHind, era: tpEra, ticks: tpTicks, domain: [0, 25], top: 482, bottom: 680.5,
    label: ["T", "p", " [s]"], statY: [500.7, 520.5, 540], obsWidth: 4, obsR: 3.2 }
];

const axisColor = "#262626";
const gridColor = "#e3e3e3";
const fontStack = '"Liberation Sans", Arial, sans-serif';

function drawPanel(p, i) {
  const y = d3.scaleLinear().domain(p.domain).range([p.bottom, p.top]);
  const g = svg.append("g");

  // grid
  g.selectAll(".gx").data(tickDates).join("line")
    .attr("x1", d => x(d)).attr("x2", d => x(d))
    .attr("y1", p.top).attr("y2", p.bottom)
    .attr("stroke", gridColor).attr("stroke-width", 1);
  g.selectAll(".gy").data(p.ticks).join("line")
    .attr("x1", left).attr("x2", right)
    .attr("y1", d => y(d)).attr("y2", d => y(d))
    .attr("stroke", gridColor).attr("stroke-width", 1);

  // statistics text (sits under the lines)
  const statsG = g.append("g").style("font-size", "21px");
  statsG.selectAll(".sh").data(hindStats[i]).join("text")
    .attr("x", 93).attr("y", (d, k) => p.statY[k]).attr("fill", "#0000ff").text(d => d);
  statsG.selectAll(".se").data(eraStats[i]).join("text")
    .attr("x", 332).attr("y", (d, k) => p.statY[k]).attr("fill", "#ff0000").text(d => d);

  const clipId = "clip" + i;
  svg.append("clipPath").attr("id", clipId).append("rect")
    .attr("x", left).attr("y", p.top).attr("width", right - left).attr("height", p.bottom - p.top);
  const plot = g.append("g").attr("clip-path", `url(#${clipId})`);

  const line = d3.line()
    .defined(d => d !== null)
    .x(d => x(toDate(d[0])))
    .y(d => y(d[1]));

  plot.append("path").datum(p.obs).attr("d", line)
    .attr("fill", "none").attr("stroke", "#000").attr("stroke-width", p.obsWidth)
    .attr("stroke-linejoin", "round").attr("stroke-linecap", "round");
  plot.selectAll(".obs").data(p.obs.filter(d => d !== null)).join("circle")
    .attr("cx", d => x(toDate(d[0]))).attr("cy", d => y(d[1])).attr("r", p.obsR)
    .attr("fill", "none").attr("stroke", "#000").attr("stroke-width", 1.3);

  plot.append("path").datum(p.hind).attr("d", line)
    .attr("fill", "none").attr("stroke", "#0000ff").attr("stroke-width", 2.6)
    .attr("stroke-linejoin", "round");
  plot.append("path").datum(p.era).attr("d", line)
    .attr("fill", "none").attr("stroke", "#ff0000").attr("stroke-width", 2.6)
    .attr("stroke-linejoin", "round");

  // axes with inward ticks on all four sides
  const yl = g.append("g").attr("transform", `translate(${left},0)`)
    .call(d3.axisLeft(y).tickValues(p.ticks).tickSizeInner(-12).tickSizeOuter(0).tickPadding(9)
      .tickFormat(d3.format("~g")));
  const yr = g.append("g").attr("transform", `translate(${right},0)`)
    .call(d3.axisRight(y).tickValues(p.ticks).tickSizeInner(-12).tickSizeOuter(0).tickFormat(""));
  const xt = g.append("g").attr("transform", `translate(0,${p.top})`)
    .call(d3.axisTop(x).tickValues(tickDates).tickSizeInner(-12).tickSizeOuter(0).tickFormat(""));
  const xb = g.append("g").attr("transform", `translate(0,${p.bottom})`)
    .call(d3.axisBottom(x).tickValues(tickDates).tickSizeInner(-12).tickSizeOuter(0).tickPadding(14)
      .tickFormat(i === 2 ? d3.utcFormat("%Y/%m/%d") : ""));
  [yl, yr, xt, xb].forEach(a => {
    a.select(".domain").remove();
    a.selectAll(".tick line").attr("stroke", axisColor).attr("stroke-width", 1);
    a.selectAll(".tick text").attr("fill", "#262626").style("font-size", "21px")
      .style("font-family", fontStack);
  });

  g.append("rect").attr("x", left).attr("y", p.top)
    .attr("width", right - left).attr("height", p.bottom - p.top)
    .attr("fill", "none").attr("stroke", axisColor).attr("stroke-width", 1.2);

  const lab = g.append("text")
    .attr("transform", `translate(33,${(p.top + p.bottom) / 2}) rotate(-90)`)
    .attr("text-anchor", "middle").attr("fill", "#262626").style("font-size", "23px");
  lab.append("tspan").text(p.label[0]);
  lab.append("tspan").attr("dy", 6).style("font-size", "18px").text(p.label[1]);
  lab.append("tspan").attr("dy", -6).text(p.label[2]);
}

panels.forEach(drawPanel);

// legend
const lg = svg.append("g").style("font-size", "20px");
lg.append("rect").attr("x", 1101).attr("y", 22.5).attr("width", 214).attr("height", 85)
  .attr("fill", "#fff").attr("stroke", axisColor).attr("stroke-width", 1);
const legendRows = [38.5, 64.5, 91];
lg.append("circle").attr("cx", 1134).attr("cy", legendRows[0]).attr("r", 2.8)
  .attr("fill", "none").attr("stroke", "#000").attr("stroke-width", 1.3);
lg.append("line").attr("x1", 1109).attr("x2", 1159).attr("y1", legendRows[1]).attr("y2", legendRows[1])
  .attr("stroke", "#0000ff").attr("stroke-width", 2.6);
lg.append("line").attr("x1", 1109).attr("x2", 1159).attr("y1", legendRows[2]).attr("y2", legendRows[2])
  .attr("stroke", "#ff0000").attr("stroke-width", 2.6);
lg.selectAll(".lt").data(seriesNames).join("text")
  .attr("x", 1163).attr("y", (d, k) => legendRows[k] + 7).attr("fill", "#000").text(d => d);
</script>
</body>
</html>
